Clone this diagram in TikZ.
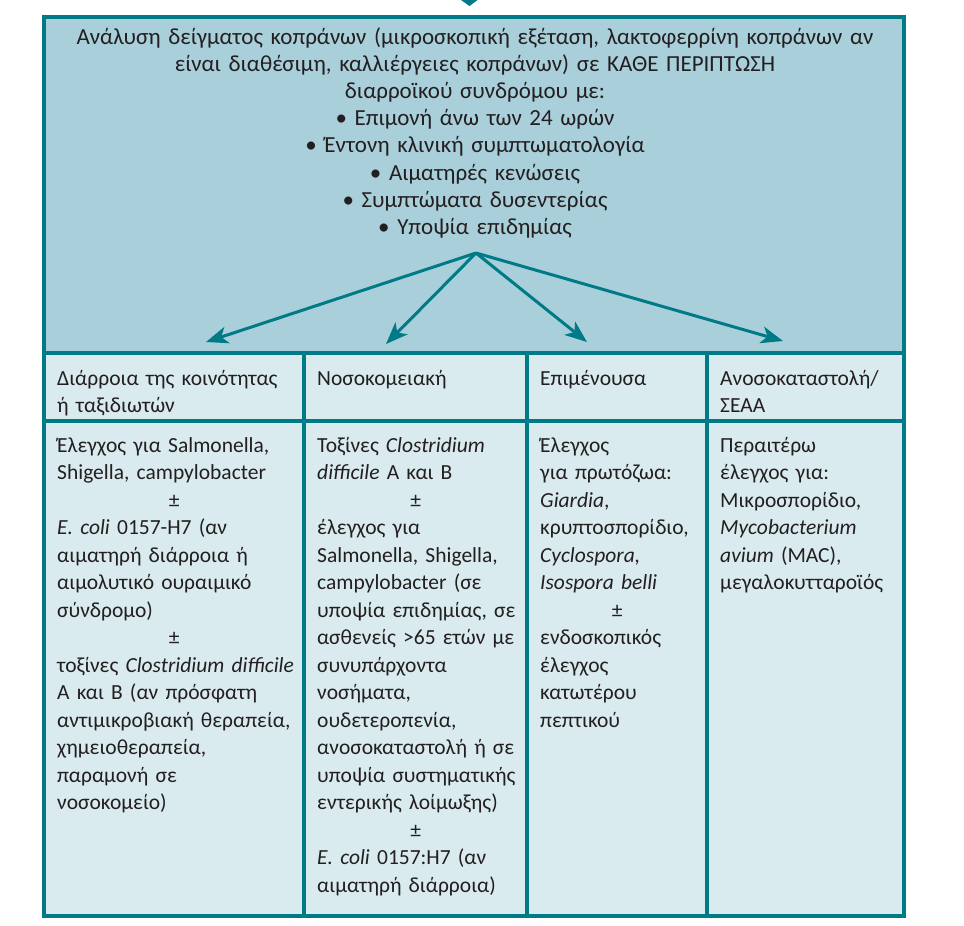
\documentclass[tikz,border=0pt]{standalone}
\usepackage{fontspec}
\setmainfont{Carlito}
\usetikzlibrary{arrows.meta}

\definecolor{framecol}{HTML}{007A87}
\definecolor{topcol}{HTML}{A9CFDA}
\definecolor{cellcol}{HTML}{DAEBF0}
\definecolor{textcol}{HTML}{231F20}

% centred plus-minus row inside a cell of the given width
\newcommand{\pmrow}[1]{\noindent\hbox to #1{\hss±\hss}}

\begin{document}
\begin{tikzpicture}[x=1pt, y=-1pt,
    txt/.style={inner sep=0pt, text=textcol,
        font=\fontsize{21.5}{27.5}\selectfont},
    cell/.style={txt, anchor=base west, align=left, text width=300pt},
    rule/.style={draw=framecol, line width=4pt},
    arrow/.style={draw=framecol, line width=3pt,
        -{Stealth[length=22pt, width=17pt, inset=6pt]}}
]
    \useasboundingbox (0,0) rectangle (964,926);

    % backgrounds
    \fill[topcol] (44,16.5) rectangle (904,353);
    \fill[cellcol] (44,353) rectangle (904,916);
    \fill[framecol] (461,0) -- (477.5,0) -- (469.5,6) -- cycle;

    % table rules
    \draw[rule] (44,353) -- (904,353);
    \draw[rule] (44,421) -- (904,421);
    \draw[rule] (304,353) -- (304,916);
    \draw[rule] (527,353) -- (527,916);
    \draw[rule] (707,353) -- (707,916);
    \draw[rule] (44,16.5) rectangle (904,916);

    % top box
    \node[txt, anchor=base, align=center, text width=860pt,
        font=\fontsize{23}{27.2}\selectfont] (analysis) at (475,44)
        {Ανάλυση δείγματος κοπράνων (μικροσκοπική εξέταση, λακτοφερρίνη κοπράνων αν\\
         είναι διαθέσιμη, καλλιέργειες κοπράνων) σε ΚΑΘΕ ΠΕΡΙΠΤΩΣΗ\\
         διαρροϊκού συνδρόμου με:\\
         • Επιμονή άνω των 24 ωρών\\
         • Έντονη κλινική συμπτωματολογία\\
         • Αιματηρές κενώσεις\\
         • Συμπτώματα δυσεντερίας\\
         • Υποψία επιδημίας};

    \coordinate (apex) at (476,253);
    \coordinate (tipa) at (206,342);
    \coordinate (tipb) at (386,344);
    \coordinate (tipc) at (587,342);
    \coordinate (tipd) at (783,341);
    \draw[arrow] (apex) -- (tipa);
    \draw[arrow] (apex) -- (tipb);
    \draw[arrow] (apex) -- (tipc);
    \draw[arrow] (apex) -- (tipd);

    % headers
    \node[cell] (community) at (57,385) {Διάρροια της κοινότητας\\ή ταξιδιωτών};
    \node[cell] (hospital) at (317,385) {Νοσοκομειακή};
    \node[cell] (persistent) at (540,385) {Επιμένουσα};
    \node[cell] (immuno) at (720,385) {Ανοσοκαταστολή/\\ΣΕΑΑ};

    % cells
    \node[cell] (communitytests) at (57,452)
        {Έλεγχος για Salmonella,\\
         Shigella, campylobacter\\
         \pmrow{234pt}\\
         \textit{E. coli} 0157-H7 (αν\\
         αιματηρή διάρροια ή\\
         αιμολυτικό ουραιμικό\\
         σύνδρομο)\\
         \pmrow{234pt}\\
         τοξίνες \textit{Clostridium difficile}\\
         A και B (αν πρόσφατη\\
         αντιμικροβιακή θεραπεία,\\
         χημειοθεραπεία,\\
         παραμονή σε\\
         νοσοκομείο)};
    \node[cell] (hospitaltests) at (317,452)
        {Τοξίνες \textit{Clostridium}\\
         \textit{difficile} A και B\\
         \pmrow{197pt}\\
         έλεγχος για\\
         Salmonella, Shigella,\\
         campylobacter (σε\\
         υποψία επιδημίας, σε\\
         ασθενείς >65 ετών με\\
         συνυπάρχοντα\\
         νοσήματα,\\
         ουδετεροπενία,\\
         ανοσοκαταστολή ή σε\\
         υποψία συστηματικής\\
         εντερικής λοίμωξης)\\
         \pmrow{197pt}\\
         \textit{E. coli} 0157:H7 (αν\\
         αιματηρή διάρροια)};
    \node[cell] (persistenttests) at (540,452)
        {Έλεγχος\\
         για πρωτόζωα:\\
         \textit{Giardia},\\
         κρυπτοσπορίδιο,\\
         \textit{Cyclospora,}\\
         \textit{Isospora belli}\\
         \pmrow{154pt}\\
         ενδοσκοπικός\\
         έλεγχος\\
         κατωτέρου\\
         πεπτικού};
    \node[cell] (immunotests) at (720,452)
        {Περαιτέρω\\
         έλεγχος για:\\
         Μικροσπορίδιο,\\
         \textit{Mycobacterium}\\
         \textit{avium} (MAC),\\
         μεγαλοκυτταροϊός};
\end{tikzpicture}
\end{document}
